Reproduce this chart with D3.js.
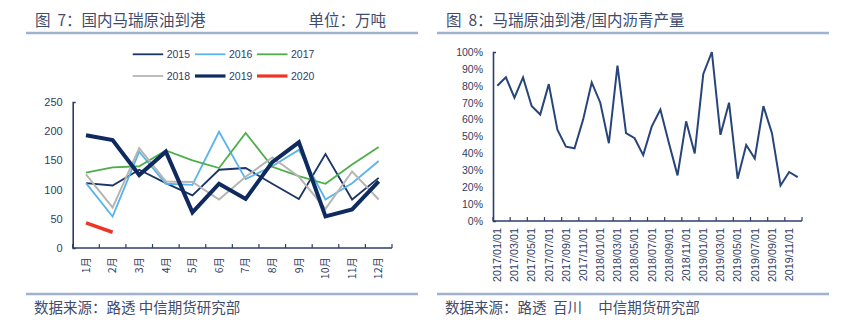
<!DOCTYPE html>
<html><head><meta charset="utf-8">
<script src="https://cdn.jsdelivr.net/npm/d3@7"></script>
<style>
body{margin:0;background:#fff;}
svg{display:block;}
text{font-family:Arial,"Liberation Sans",sans-serif;}
.cjk{font-family:"Noto Sans CJK SC","Noto Sans",sans-serif;white-space:pre;}
</style></head>
<body>
<svg id="c" width="852" height="326"></svg>
<script>
// ---- Left chart data (万吨) ----
const months = ["1月","2月","3月","4月","5月","6月","7月","8月","9月","10月","11月","12月"];
const years = ["2015","2016","2017","2018","2019","2020"];
const v2015 = [111,107,134,111,90,134,137,110,84,161,83,120];
const v2016 = [111,54,165,110,108,199,118,140,168,83,111,149];
const v2017 = [129,138,140,167,150,137,197,139,123,110,143,173];
const v2018 = [126,69,171,114,113,83,122,155,122,67,131,83];
const v2019 = [193,185,125,165,61,110,84,147,181,54,66,114];
const v2020 = [43,27];
const leftYTicks = [0,50,100,150,200,250];

// ---- Right chart data (%) ----
const dates = [];
["2017","2018","2019"].forEach(y=>{for(let m=1;m<=12;m++) dates.push(y+"/"+String(m).padStart(2,"0")+"/01");});
const ratio = [80,85,73,85,68,63,81,54,44,43,60,82,70,46,92,52,49,39,56,66,46,27,59,40,87,100,51,70,25,45,37,68,52,21,29,26];
const rightYTicks = [0,10,20,30,40,50,60,70,80,90,100];

const axisColor = "#2c3e6b";
const textColor = "#2f3d63";
const titleColor = "#3f4c6e";
const sepColor = "#9fb2d2";

const svg = d3.select("#c");

// ===== Frame / titles =====
function frame(x0, x1, title, right, footer){
  svg.append("text").attr("class","cjk").attr("x", x0+9).attr("y", 26)
    .attr("font-size", 15.5).attr("fill", titleColor).text(title);
  if(right) svg.append("text").attr("class","cjk").attr("x", x1-32).attr("y", 26)
    .attr("font-size", 15.5).attr("fill", titleColor).attr("text-anchor","end").text(right);
  svg.append("line").attr("x1", x0).attr("x2", x1).attr("y1", 33).attr("y2", 33)
    .attr("stroke", sepColor).attr("stroke-width", 2.5);
  svg.append("line").attr("x1", x0).attr("x2", x1).attr("y1", 294).attr("y2", 294)
    .attr("stroke", sepColor).attr("stroke-width", 2.5);
  svg.append("text").attr("class","cjk").attr("x", x0+8).attr("y", 312.5)
    .attr("font-size", 14.5).attr("fill", titleColor).text(footer);
}
frame(26, 418, "图  7：国内马瑞原油到港", "单位：万吨", "数据来源：路透 中信期货研究部");
frame(437, 829, "图  8：马瑞原油到港/国内沥青产量", null, "数据来源：路透  百川     中信期货研究部");

// ===== Left chart =====
const L = {l:72.7, r:392, t:102, b:248};
const xL = d3.scaleBand().domain(months).range([L.l, L.r]);
const yL = d3.scaleLinear().domain([0,250]).range([L.b, L.t]);
const gL = svg.append("g");

// y axis
const yAxL = d3.axisLeft(yL).tickValues(leftYTicks).tickSizeInner(0).tickSizeOuter(-3).tickPadding(10);
gL.append("g").attr("transform",`translate(${L.l},0)`).call(yAxL)
  .call(g=>{g.select(".domain").attr("stroke",axisColor).attr("stroke-width",1.6);
    g.selectAll("text").attr("fill",textColor).attr("font-size",11);});
// x axis
gL.append("line").attr("x1",L.l).attr("x2",L.r).attr("y1",L.b).attr("y2",L.b).attr("stroke",axisColor).attr("stroke-width",1.6);
const bL = months.map(m=>xL(m)).concat([L.r]);
gL.selectAll(".tk").data(bL).join("line").attr("x1",d=>d).attr("x2",d=>d)
  .attr("y1",L.b).attr("y2",L.b-4).attr("stroke",axisColor).attr("stroke-width",1.2);
gL.selectAll(".xl").data(months).join("text").attr("class","cjk")
  .attr("transform",d=>`translate(${xL(d)+xL.bandwidth()/2},${L.b+9}) rotate(-90)`)
  .attr("text-anchor","end").attr("dy","0.35em").attr("font-size",10.5).attr("fill",textColor).text(d=>d);

const seriesL = [
  {name:"2015", vals:v2015, color:"#1c3468", w:1.8},
  {name:"2016", vals:v2016, color:"#5ab3ea", w:1.8},
  {name:"2017", vals:v2017, color:"#4eae4a", w:1.8},
  {name:"2018", vals:v2018, color:"#b5b5b5", w:2},
  {name:"2019", vals:v2019, color:"#0e2a5e", w:4},
  {name:"2020", vals:v2020, color:"#ee3424", w:3.5}
];
const lineL = d3.line().x((d,i)=>xL(months[i])+xL.bandwidth()/2).y(d=>yL(d));
seriesL.forEach(s=>{
  gL.append("path").attr("d", lineL(s.vals)).attr("fill","none")
    .attr("stroke", s.color).attr("stroke-width", s.w).attr("stroke-linejoin","miter");
});
// legend
const lgX = [132.7, 195, 257], lgY = [54.3, 76];
seriesL.forEach((s,i)=>{
  const x = lgX[i%3], y = lgY[Math.floor(i/3)];
  svg.append("line").attr("x1",x).attr("x2",x+30.5).attr("y1",y).attr("y2",y)
    .attr("stroke",s.color).attr("stroke-width", s.w>3 ? 3.2 : 1.8);
  svg.append("text").attr("x",x+34).attr("y",y).attr("dy","0.36em")
    .attr("font-size",10.5).attr("fill",textColor).text(s.name);
});

// ===== Right chart =====
const R = {l:493, r:802, t:52, b:221};
const xR = d3.scaleBand().domain(dates).range([R.l, R.r]);
const yR = d3.scaleLinear().domain([0,100]).range([R.b, R.t]);
const gR = svg.append("g");
const yAxR = d3.axisLeft(yR).tickValues(rightYTicks).tickSizeInner(0).tickSizeOuter(-3).tickPadding(10)
  .tickFormat(d=>d+"%");
gR.append("g").attr("transform",`translate(${R.l},0)`).call(yAxR)
  .call(g=>{g.select(".domain").attr("stroke",axisColor).attr("stroke-width",1.6);
    g.selectAll("text").attr("fill",textColor).attr("font-size",10.5);});
gR.append("line").attr("x1",R.l).attr("x2",R.r).attr("y1",R.b).attr("y2",R.b).attr("stroke",axisColor).attr("stroke-width",1.6);
const bR = dates.filter((d,i)=>i%2===0).map(d=>xR(d)).concat([R.r]);
gR.selectAll(".tk").data(bR).join("line").attr("x1",d=>d).attr("x2",d=>d)
  .attr("y1",R.b).attr("y2",R.b-4).attr("stroke",axisColor).attr("stroke-width",1.2);
gR.selectAll(".xl").data(dates.filter((d,i)=>i%2===0)).join("text")
  .attr("transform",d=>`translate(${xR(d)+xR.bandwidth()/2},${R.b+7}) rotate(-90)`)
  .attr("text-anchor","end").attr("dy","0.35em").attr("font-size",10.8).attr("fill",textColor).text(d=>d);
const lineR = d3.line().x((d,i)=>xR(dates[i])+xR.bandwidth()/2).y(d=>yR(d));
gR.append("path").attr("d", lineR(ratio)).attr("fill","none")
  .attr("stroke","#27457a").attr("stroke-width",2).attr("stroke-linejoin","miter");
</script>
</body></html>
